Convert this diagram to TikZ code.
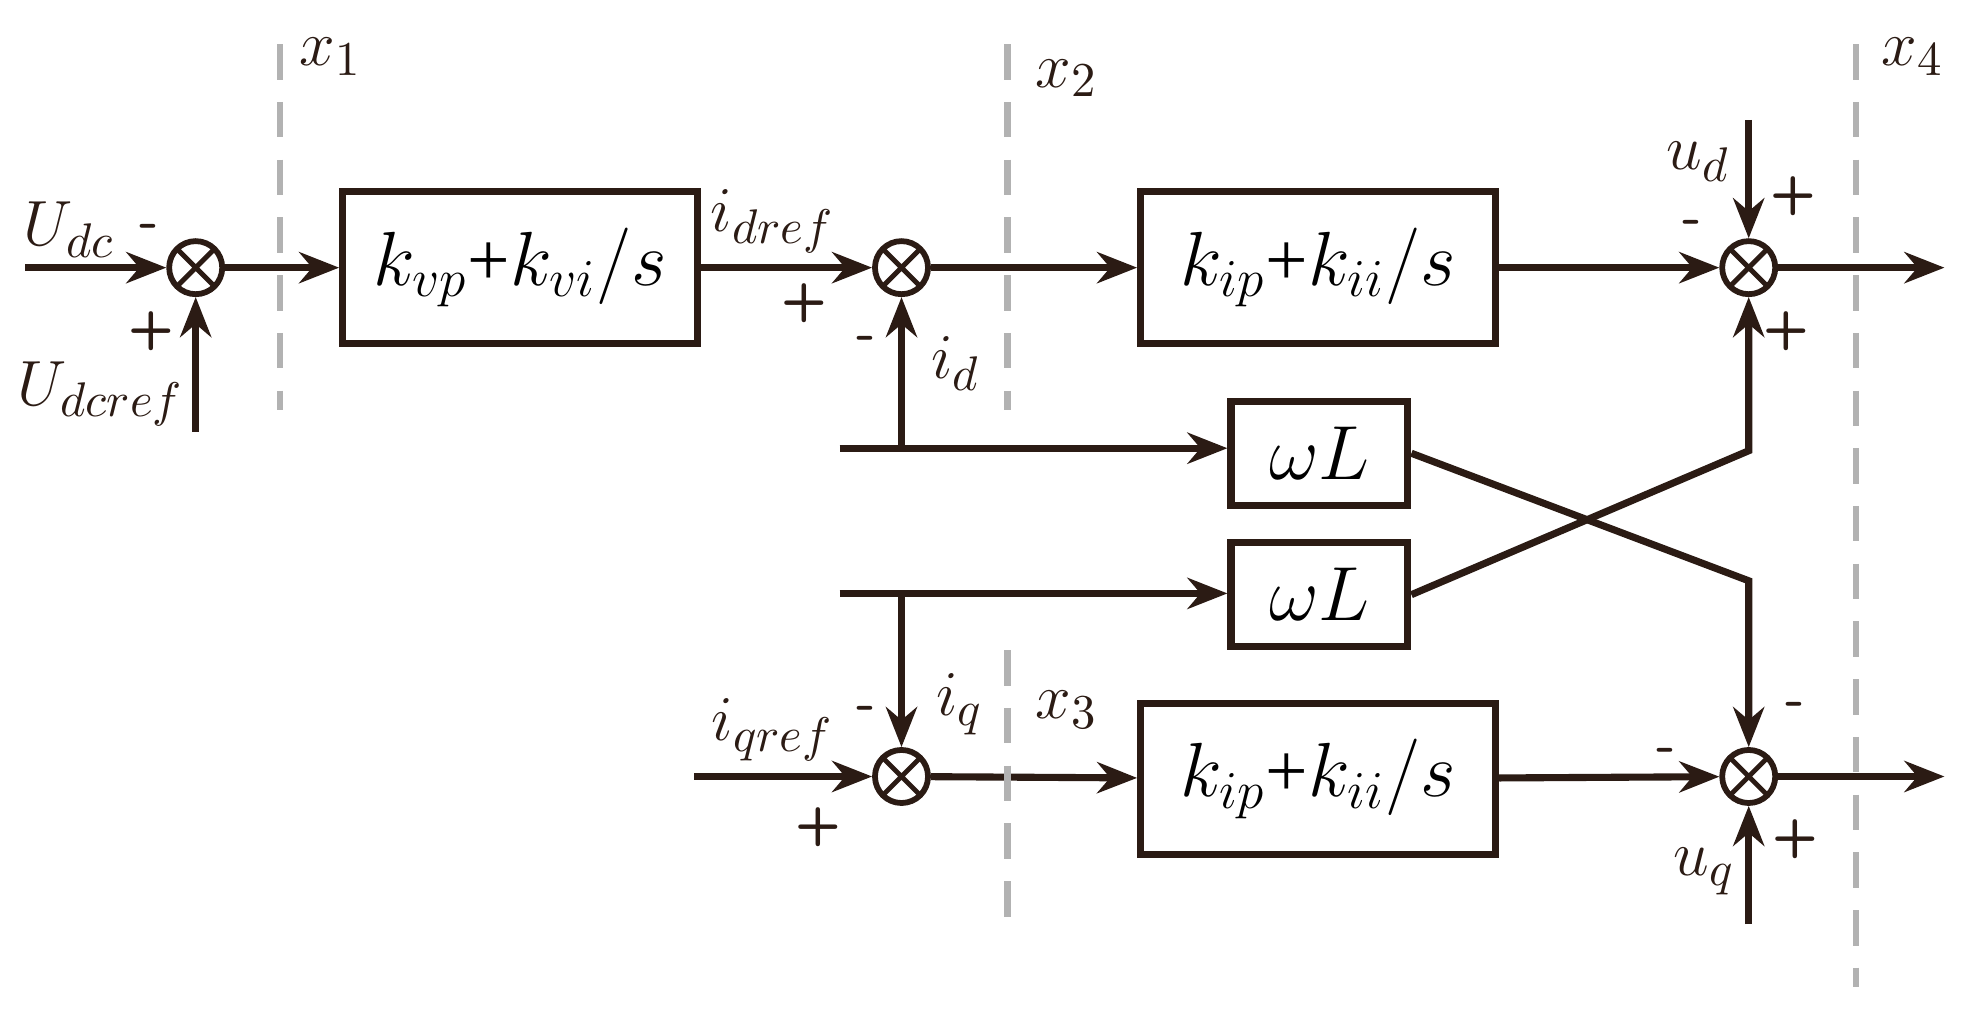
\documentclass[tikz,border=0pt]{standalone}
\usepackage{fontspec}
\setmainfont{Liberation Serif}
\usetikzlibrary{arrows.meta}
\definecolor{ink}{HTML}{2B1B14}
\tikzset{
  blk/.style={draw=ink, line width=1.6pt, minimum width=2.81cm, minimum height=1.2cm, font=\fontsize{17}{20}\selectfont},
  wl/.style={draw=ink, line width=1.6pt, minimum width=1.4cm, minimum height=0.82cm, font=\fontsize{17}{20}\selectfont},
  sum/.style={draw=ink, circle, line width=1.3pt, minimum size=0.42cm, inner sep=0pt,
    path picture={\draw[ink, line width=1.1pt] (path picture bounding box.north west) -- (path picture bounding box.south east)
      (path picture bounding box.north east) -- (path picture bounding box.south west);}},
  sig/.style={draw=ink, line width=1.6pt, -{Stealth[length=9pt,width=7pt]}},
  ln/.style={draw=ink, line width=1.6pt},
  cut/.style={draw=gray!60, line width=1.4pt, dash pattern=on 8pt off 5pt},
  lbl/.style={text=ink, font=\fontsize{15}{18}\selectfont},
  sgn/.style={text=ink, font=\sffamily\bfseries\large}
}
\begin{document}
\begin{tikzpicture}[x=0.01cm, y=-0.01cm]
        \useasboundingbox (0,0) rectangle (1565,801);
        % Sumadores y bloques
        \node[sum] (s1) at (155,212) {};
        \node[sum] (s2) at (714,212) {};
        \node[sum] (s3) at (1385,212) {};
        \node[sum] (s4) at (1385,615) {};
        \node[sum] (s5) at (714,615) {};
        \node[blk] (pv) at (412,212) {$k_{vp}$+$k_{vi}/s$};
        \node[blk] (pd) at (1044,212) {$k_{ip}$+$k_{ii}/s$};
        \node[blk] (pq) at (1044,617) {$k_{ip}$+$k_{ii}/s$};
        \node[wl] (wa) at (1045,359) {$\omega L$};
        \node[wl] (wb) at (1045,471) {$\omega L$};
        % Extremos libres
        \coordinate (in1) at (20,212);
        \coordinate (in2) at (155,342);
        \coordinate (idb) at (665,355);
        \coordinate (iqb) at (665,470);
        \coordinate (in3) at (550,615);
        \coordinate (ud) at (1385,95);
        \coordinate (uq) at (1385,732);
        \coordinate (o1) at (1540,212);
        \coordinate (o2) at (1540,615);
        % Conexiones
        \path[sig] (in1) -- (s1);
        \path[sig] (in2) -- (s1);
        \path[sig] (s1) -- (pv);
        \path[sig] (pv) -- (s2);
        \path[sig] (s2) -- (pd);
        \path[sig] (pd) -- (s3);
        \path[sig] (s3) -- (o1);
        \path[sig] (ud) -- (s3);
        \path[ln] (idb) -- (714,355);
        \path[sig] (714,355) -- (wa.west |- 0,355);
        \path[sig] (714,355) -- (s2);
        \path[sig] (iqb) -- (wb.west |- 0,470);
        \path[sig] (714,470) -- (s5);
        \path[sig] (in3) -- (s5);
        \path[sig] (s5) -- (pq);
        \path[sig] (pq) -- (s4);
        \path[sig] (s4) -- (o2);
        \path[sig] (uq) -- (s4);
        \path[sig] (wa.east) -- (1385,460) -- (s4);
        \path[sig] (wb.east) -- (1385,357) -- (s3);
        % Cortes
        \path[cut] (222,35) -- (222,325);
        \path[cut] (798,35) -- (798,325);
        \path[cut] (798,515) -- (798,740);
        \path[cut] (1470,35) -- (1470,782);
        \node[lbl] at (262,45) {$x_1$};
        \node[lbl] at (845,62) {$x_2$};
        \node[lbl] at (845,562) {$x_3$};
        \node[lbl] at (1515,45) {$x_4$};
        % Etiquetas
        \node[lbl] at (55,182) {$U_{dc}$};
        \node[lbl] at (80,312) {$U_{dcref}$};
        \node[lbl] at (612,175) {$i_{dref}$};
        \node[lbl] at (757,288) {$i_d$};
        \node[lbl] at (612,578) {$i_{qref}$};
        \node[lbl] at (760,558) {$i_q$};
        \node[lbl] at (1345,128) {$u_d$};
        \node[lbl] at (1350,690) {$u_q$};
        \node[sgn] at (118,183) {-};
        \node[sgn] at (120,262) {+};
        \node[sgn] at (637,240) {+};
        \node[sgn] at (686,272) {-};
        \node[sgn] at (686,565) {-};
        \node[sgn] at (648,655) {+};
        \node[sgn] at (1340,180) {-};
        \node[sgn] at (1420,155) {+};
        \node[sgn] at (1415,262) {+};
        \node[sgn] at (1320,598) {-};
        \node[sgn] at (1422,562) {-};
        \node[sgn] at (1422,665) {+};
\end{tikzpicture}
\end{document}
